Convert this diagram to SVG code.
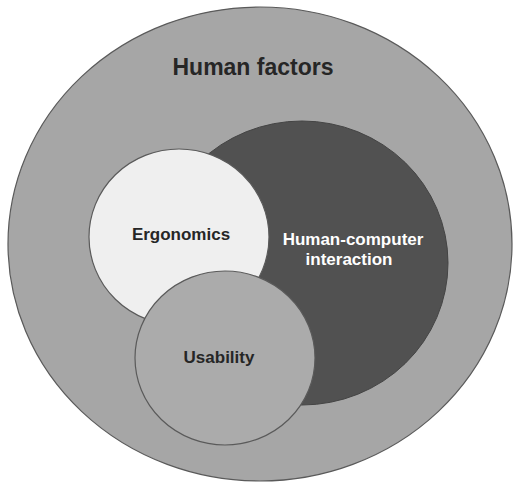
<svg xmlns="http://www.w3.org/2000/svg" width="513" height="482" viewBox="0 0 513 482">
  <style>
    .lbl { font-family: "Liberation Sans", Arial, sans-serif; font-weight: bold; text-anchor: middle; }
    .dark { fill: #262626; }
    .light { fill: #ffffff; }
    .ring { stroke: #5a5a5a; stroke-width: 1.2; }
  </style>
  <rect width="513" height="482" fill="#ffffff"/>
  <g id="human-factors">
    <ellipse cx="260" cy="244" rx="252" ry="237" fill="#a6a6a6" class="ring"/>
    <text x="253" y="75" class="lbl dark" font-size="23">Human factors</text>
  </g>
  <g id="hci">
    <ellipse cx="302" cy="263" rx="146" ry="142" fill="#515151" stroke="#444" stroke-width="1"/>
    <text x="353" y="245" class="lbl light" font-size="17">Human-computer</text>
    <text x="349" y="265" class="lbl light" font-size="17">interaction</text>
  </g>
  <g id="ergonomics">
    <ellipse cx="179" cy="237" rx="90" ry="88" fill="#efefef" class="ring"/>
    <text x="181" y="240" class="lbl dark" font-size="17">Ergonomics</text>
  </g>
  <g id="usability">
    <ellipse cx="225" cy="358" rx="90" ry="87" fill="#ababab" class="ring"/>
    <text x="219" y="363" class="lbl dark" font-size="17">Usability</text>
  </g>
  <g id="connectors"></g>
</svg>
